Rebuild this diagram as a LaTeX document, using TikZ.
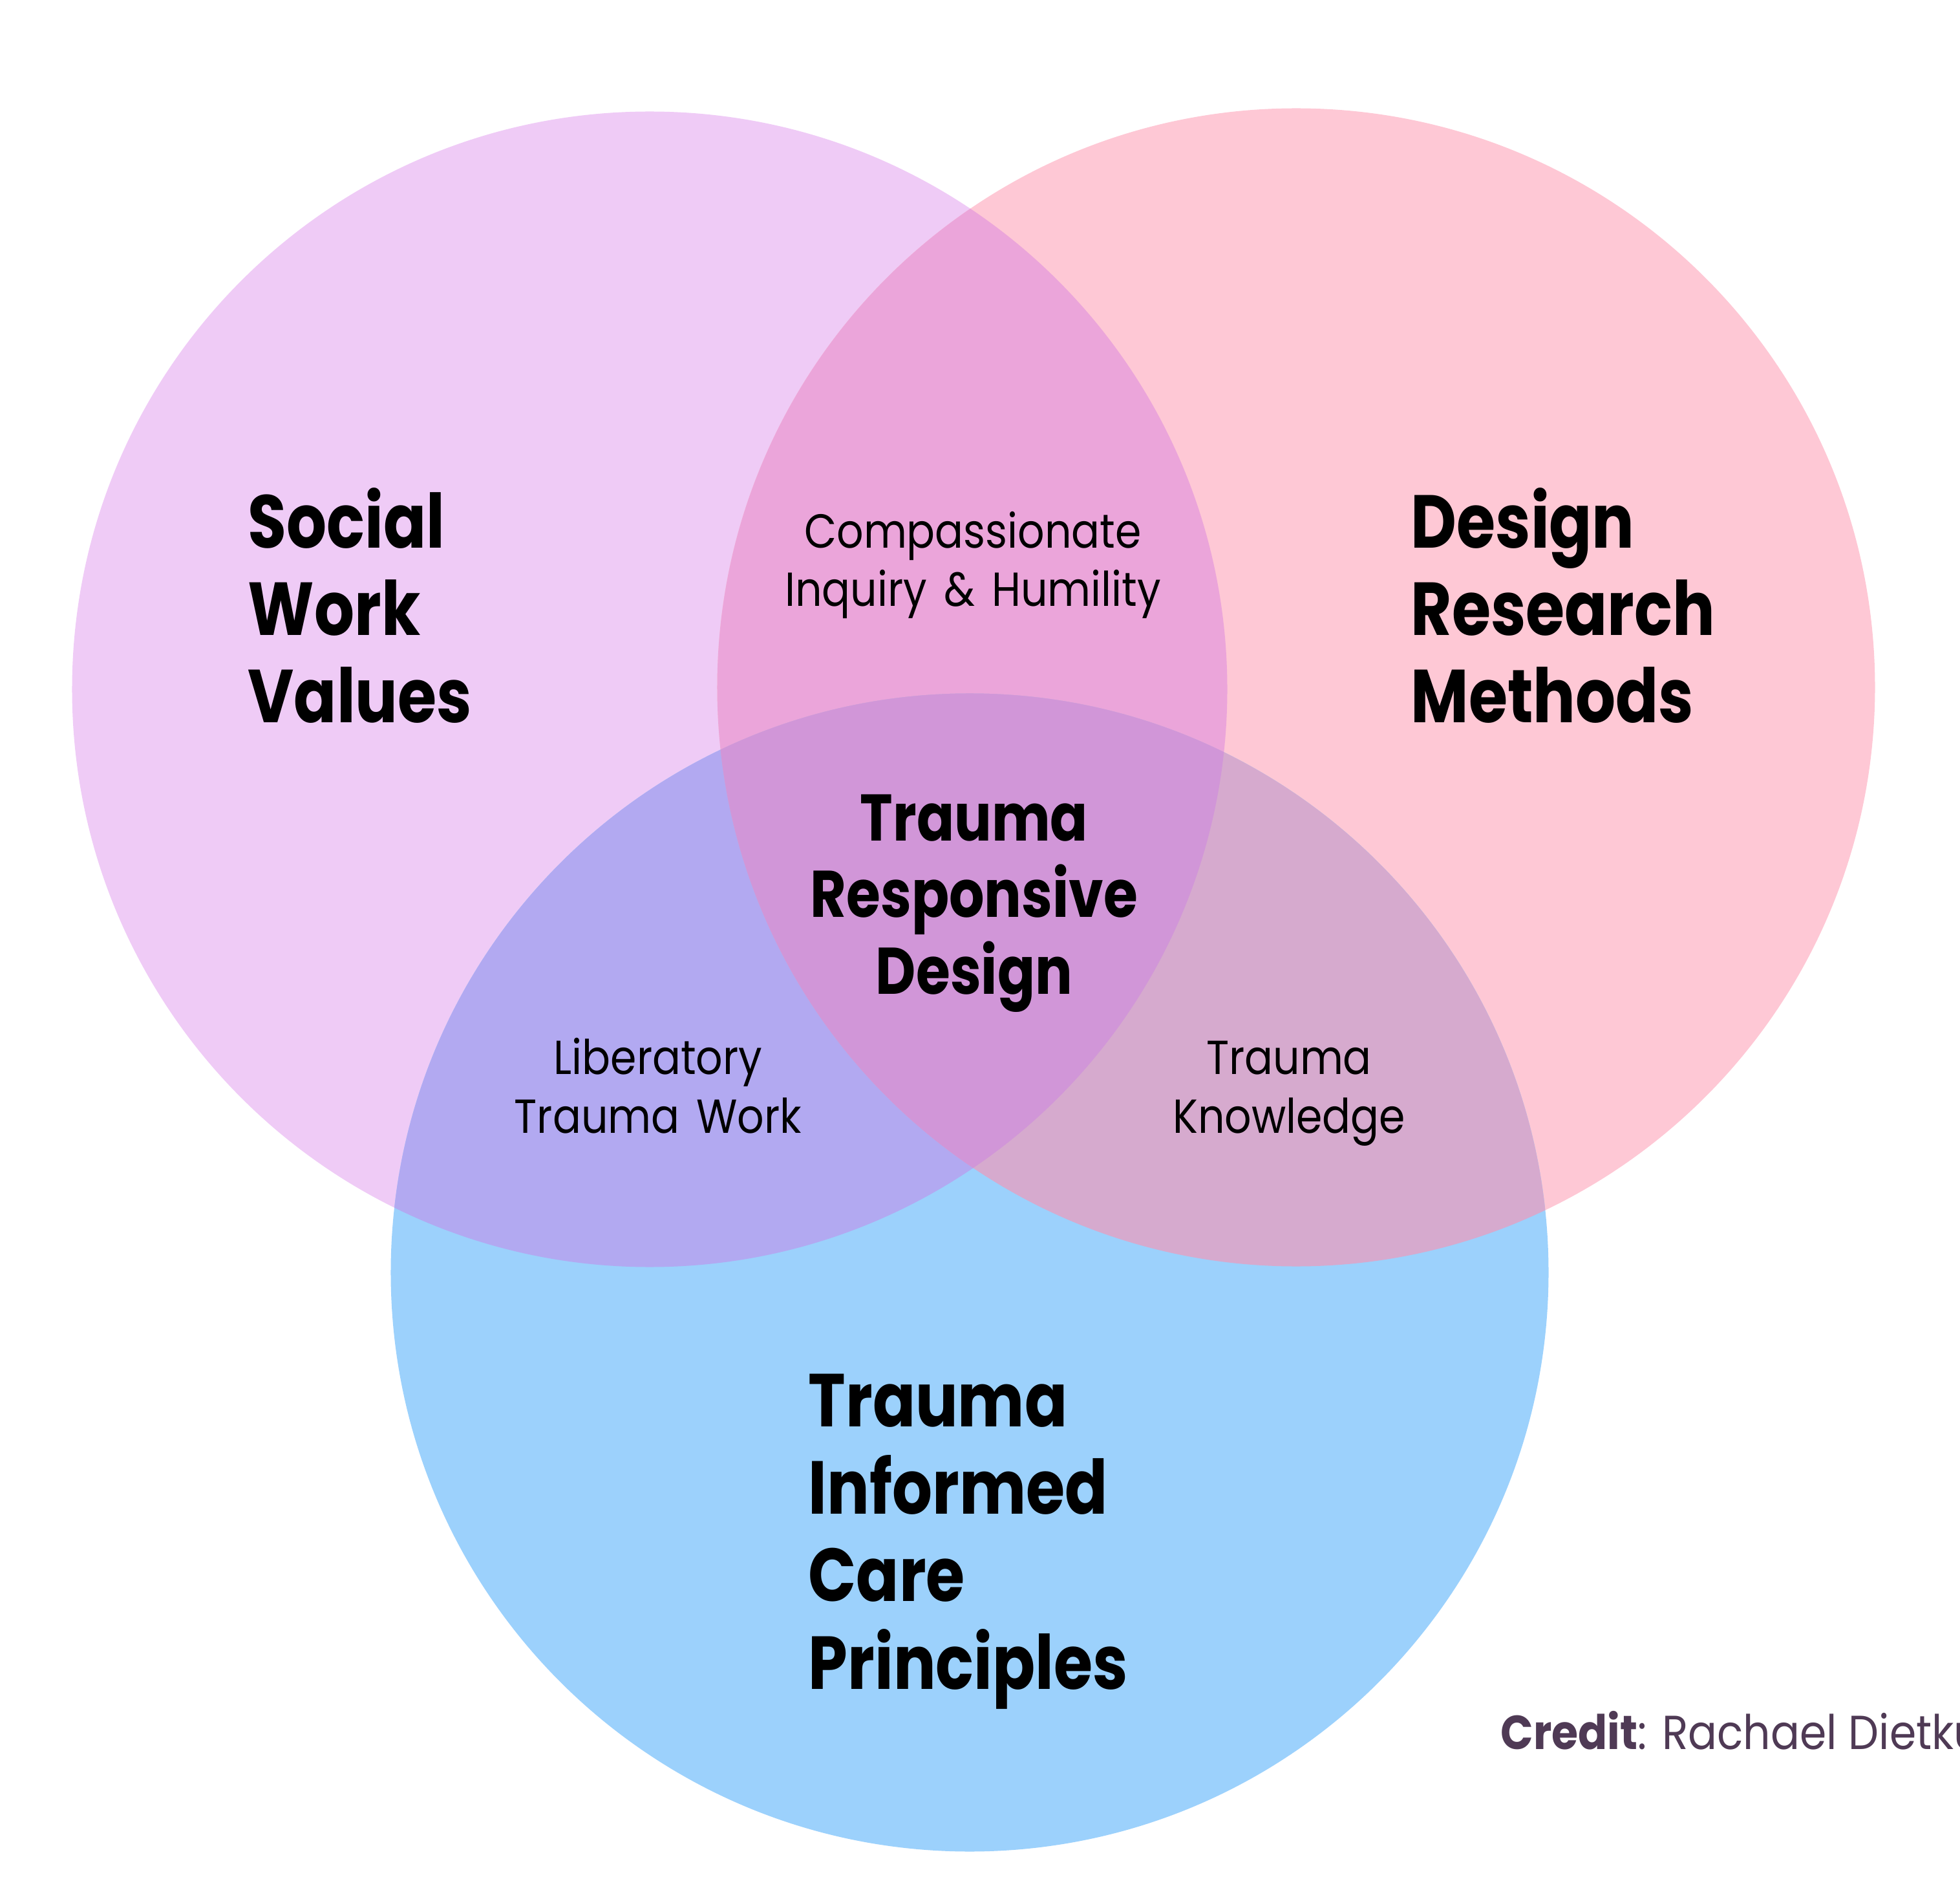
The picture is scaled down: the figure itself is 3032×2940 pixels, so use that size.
\documentclass[tikz,border=0pt]{standalone}
\usepackage{fontspec}
\usepackage{xcolor}
\usepackage{tikz}
\usetikzlibrary{positioning}
\newfontfamily\vennfont[FakeStretch=0.84]{Poppins}
\newfontfamily\overlapfont[FakeStretch=0.88, WordSpace=1.5]{Poppins}
\newfontfamily\creditfont[FakeStretch=0.9]{Poppins}

\definecolor{swvfill}{HTML}{EFCBF6}
\definecolor{drmfill}{HTML}{FEC8D5}
\definecolor{ticfill}{HTML}{9CD1FC}
\definecolor{swvdrm}{HTML}{EBA5DA}
\definecolor{swvtic}{HTML}{B2A9F1}
\definecolor{drmtic}{HTML}{D6AACE}
\definecolor{centerfill}{HTML}{D196D8}
\definecolor{creditcol}{HTML}{4F3A55}

\begin{document}
\begin{tikzpicture}[x=0.01cm, y=-0.01cm,
    every node/.style={inner sep=0pt, text=black},
    maintitle/.style={font=\vennfont\bfseries\fontsize{33}{38.4}\selectfont, align=left, anchor=base west},
    coreTitle/.style={font=\vennfont\bfseries\fontsize{29}{33.6}\selectfont, align=center, anchor=base},
    overlap/.style={font=\overlapfont\fontsize{21}{25.8}\selectfont, align=center, anchor=base}]
    \useasboundingbox (0,0) rectangle (3032,2940);
    \clip (0,0) rectangle (3032,2940);

    % Circles
    \def\swvcircle{(1005,1066) circle [radius=8.93cm]}
    \def\drmcircle{(2005,1063) circle [radius=8.95cm]}
    \def\ticcircle{(1500,1968) circle [radius=8.95cm]}
    \fill[swvfill] \swvcircle;
    \fill[drmfill] \drmcircle;
    \fill[ticfill] \ticcircle;

    % Pairwise overlaps
    \begin{scope}
        \clip \swvcircle;
        \fill[swvdrm] \drmcircle;
        \fill[swvtic] \ticcircle;
    \end{scope}
    \begin{scope}
        \clip \drmcircle;
        \fill[drmtic] \ticcircle;
    \end{scope}
    % Centre
    \begin{scope}
        \clip \swvcircle;
        \clip \drmcircle;
        \fill[centerfill] \ticcircle;
    \end{scope}

    % Labels (anchored on the baseline of the last line)
    \node[maintitle] (social) at (383,1118) {Social\\Work\\Values};
    \node[maintitle] (design) at (2182,1118) {Design\\Research\\Methods};
    \node[maintitle] (care) at (1250,2612) {Trauma\\Informed\\Care\\Principles};

    \node[overlap] (inquiry) at (1505,938) {Compassionate\\Inquiry \& Humility};
    \node[overlap] (liberatory) at (1018,1752) {Liberatory\\Trauma Work};
    \node[overlap] (knowledge) at (1994,1752) {Trauma\\Knowledge};
    \node[coreTitle] (core) at (1507,1537) {Trauma\\Responsive\\Design};

    % Credit
    \node[anchor=base west, text=creditcol, font=\creditfont\fontsize{21}{25}\selectfont]
        (credit) at (2321,2705) {\textbf{Credit}: Rachael Dietkus};
\end{tikzpicture}
\end{document}
